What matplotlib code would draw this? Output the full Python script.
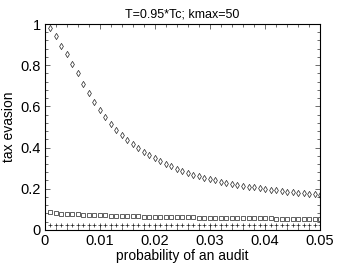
import numpy as np
import matplotlib.pyplot as plt
from matplotlib.ticker import AutoMinorLocator

p_audit = np.arange(1, 51) * 0.001
evasion_high = [0.98, 0.94, 0.895, 0.852, 0.805, 0.76, 0.71, 0.665, 0.62, 0.582,
                0.547, 0.515, 0.486, 0.46, 0.437, 0.415, 0.396, 0.378, 0.362, 0.347,
                0.333, 0.320, 0.308, 0.297, 0.287, 0.278, 0.269, 0.261, 0.254, 0.247,
                0.241, 0.235, 0.229, 0.224, 0.219, 0.215, 0.210, 0.206, 0.202, 0.199,
                0.195, 0.192, 0.189, 0.186, 0.183, 0.180, 0.178, 0.175, 0.173, 0.170]
evasion_mid = [0.085, 0.081, 0.079, 0.077, 0.076, 0.075, 0.074, 0.073, 0.072, 0.071,
               0.070, 0.069, 0.069, 0.068, 0.067, 0.067, 0.066, 0.065, 0.065, 0.064,
               0.064, 0.063, 0.063, 0.062, 0.062, 0.061, 0.061, 0.060, 0.060, 0.060,
               0.059, 0.059, 0.058, 0.058, 0.058, 0.057, 0.057, 0.057, 0.056, 0.056,
               0.056, 0.055, 0.055, 0.055, 0.054, 0.054, 0.054, 0.053, 0.053, 0.053]
evasion_low = [0.022] * 50

plt.rcParams['font.family'] = ['Liberation Sans', 'DejaVu Sans']
fig = plt.figure(figsize=(3.54, 2.67), dpi=100)
ax = fig.add_axes([0.127, 0.139, 0.777, 0.771])

ax.plot(p_audit, evasion_high, linestyle='none', marker='d', ms=3.2,
        mfc='none', mec='#222222', mew=0.5)
ax.plot(p_audit, evasion_mid, linestyle='none', marker='s', ms=2.6,
        mfc='none', mec='#222222', mew=0.5)
ax.plot(p_audit, evasion_low, linestyle='none', marker='+', ms=3.5,
        color='#222222', mew=0.5)

ax.set_xlim(0, 0.05)
ax.set_ylim(0, 1)
ax.set_xticks([0, 0.01, 0.02, 0.03, 0.04, 0.05])
ax.set_xticklabels(['0', '0.01', '0.02', '0.03', '0.04', '0.05'])
ax.set_yticks([0, 0.2, 0.4, 0.6, 0.8, 1])
ax.set_yticklabels(['0', '0.2', '0.4', '0.6', '0.8', '1'])
ax.xaxis.set_minor_locator(AutoMinorLocator(5))
ax.yaxis.set_minor_locator(AutoMinorLocator(5))
for s in ax.spines.values():
    s.set_linewidth(0.8)
ax.tick_params(which='both', direction='in', top=True, right=True,
               labelsize=10.5, pad=3, color='#555555', width=0.6)
ax.tick_params(which='major', length=3.5)
ax.tick_params(which='minor', length=2)
ax.set_xlabel('probability of an audit', fontsize=10, labelpad=1)
ax.set_ylabel('tax evasion', fontsize=10, labelpad=3)
ax.set_title('T=0.95*Tc; kmax=50', fontsize=9, pad=5)

fig.savefig('out.png', dpi=100)
